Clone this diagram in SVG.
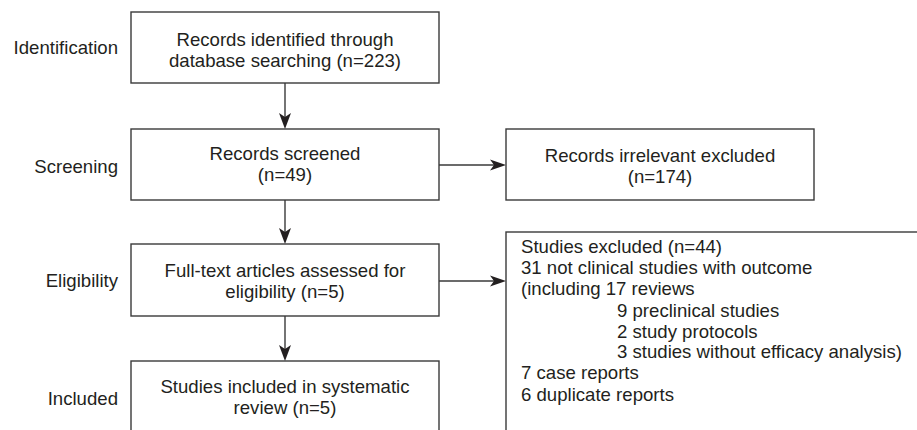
<svg xmlns="http://www.w3.org/2000/svg" width="917" height="430" viewBox="0 0 917 430">
<style>
.box{fill:#fff;stroke:#3a3a3a;stroke-width:1.4}
.t{font-family:"Liberation Sans",Arial,sans-serif;font-size:18.6px;fill:#231f20}
.c{text-anchor:middle}
.r{text-anchor:end}
.ln{stroke:#3a3a3a;stroke-width:1.4;fill:none}
.ah{fill:#231f20}
</style>
<rect width="917" height="430" fill="#fff"/>
<g id="labels">
<text class="t r" x="118" y="54">Identification</text>
<text class="t r" x="118" y="173">Screening</text>
<text class="t r" x="118" y="287">Eligibility</text>
<text class="t r" x="118" y="405">Included</text>
</g>
<g id="connectors">
<line class="ln" x1="285" y1="83" x2="285" y2="118"/>
<path class="ah" d="M285,129 L279,113 L285,117 L291,113 Z"/>
<line class="ln" x1="285" y1="200" x2="285" y2="233"/>
<path class="ah" d="M285,244 L279,228 L285,232 L291,228 Z"/>
<line class="ln" x1="285" y1="316" x2="285" y2="350"/>
<path class="ah" d="M285,361 L279,345 L285,349 L291,345 Z"/>
<line class="ln" x1="439" y1="165" x2="496" y2="165"/>
<path class="ah" d="M506,165 L490,159.5 L494,165 L490,170.5 Z"/>
<line class="ln" x1="439" y1="281" x2="496" y2="281"/>
<path class="ah" d="M506,281 L490,275.5 L494,281 L490,286.5 Z"/>
</g>
<g id="identification">
<rect class="box" x="131" y="12" width="308" height="71"/>
<text class="t c" x="285" y="46">Records identified through</text>
<text class="t c" x="285" y="67">database searching (n=223)</text>
</g>
<g id="screening">
<rect class="box" x="131" y="129" width="308" height="71"/>
<text class="t c" x="285" y="160">Records screened</text>
<text class="t c" x="285" y="181">(n=49)</text>
</g>
<g id="irrelevant">
<rect class="box" x="506" y="129" width="308" height="71"/>
<text class="t c" x="660" y="162">Records irrelevant excluded</text>
<text class="t c" x="660" y="183">(n=174)</text>
</g>
<g id="eligibility">
<rect class="box" x="131" y="244" width="308" height="72"/>
<text class="t c" x="285" y="277">Full-text articles assessed for</text>
<text class="t c" x="285" y="298">eligibility (n=5)</text>
</g>
<g id="excluded">
<rect class="box" x="506" y="232" width="450" height="250"/>
<text class="t" x="521" y="253">Studies excluded (n=44)</text>
<text class="t" x="521" y="274">31 not clinical studies with outcome</text>
<text class="t" x="521" y="295">(including 17 reviews</text>
<text class="t" x="617" y="317">9 preclinical studies</text>
<text class="t" x="617" y="338">2 study protocols</text>
<text class="t" x="617" y="358">3 studies without efficacy analysis)</text>
<text class="t" x="521" y="379">7 case reports</text>
<text class="t" x="521" y="401">6 duplicate reports</text>
</g>
<g id="included">
<rect class="box" x="131" y="361" width="308" height="100"/>
<text class="t c" x="285" y="393">Studies included in systematic</text>
<text class="t c" x="285" y="414">review (n=5)</text>
</g>
</svg>
